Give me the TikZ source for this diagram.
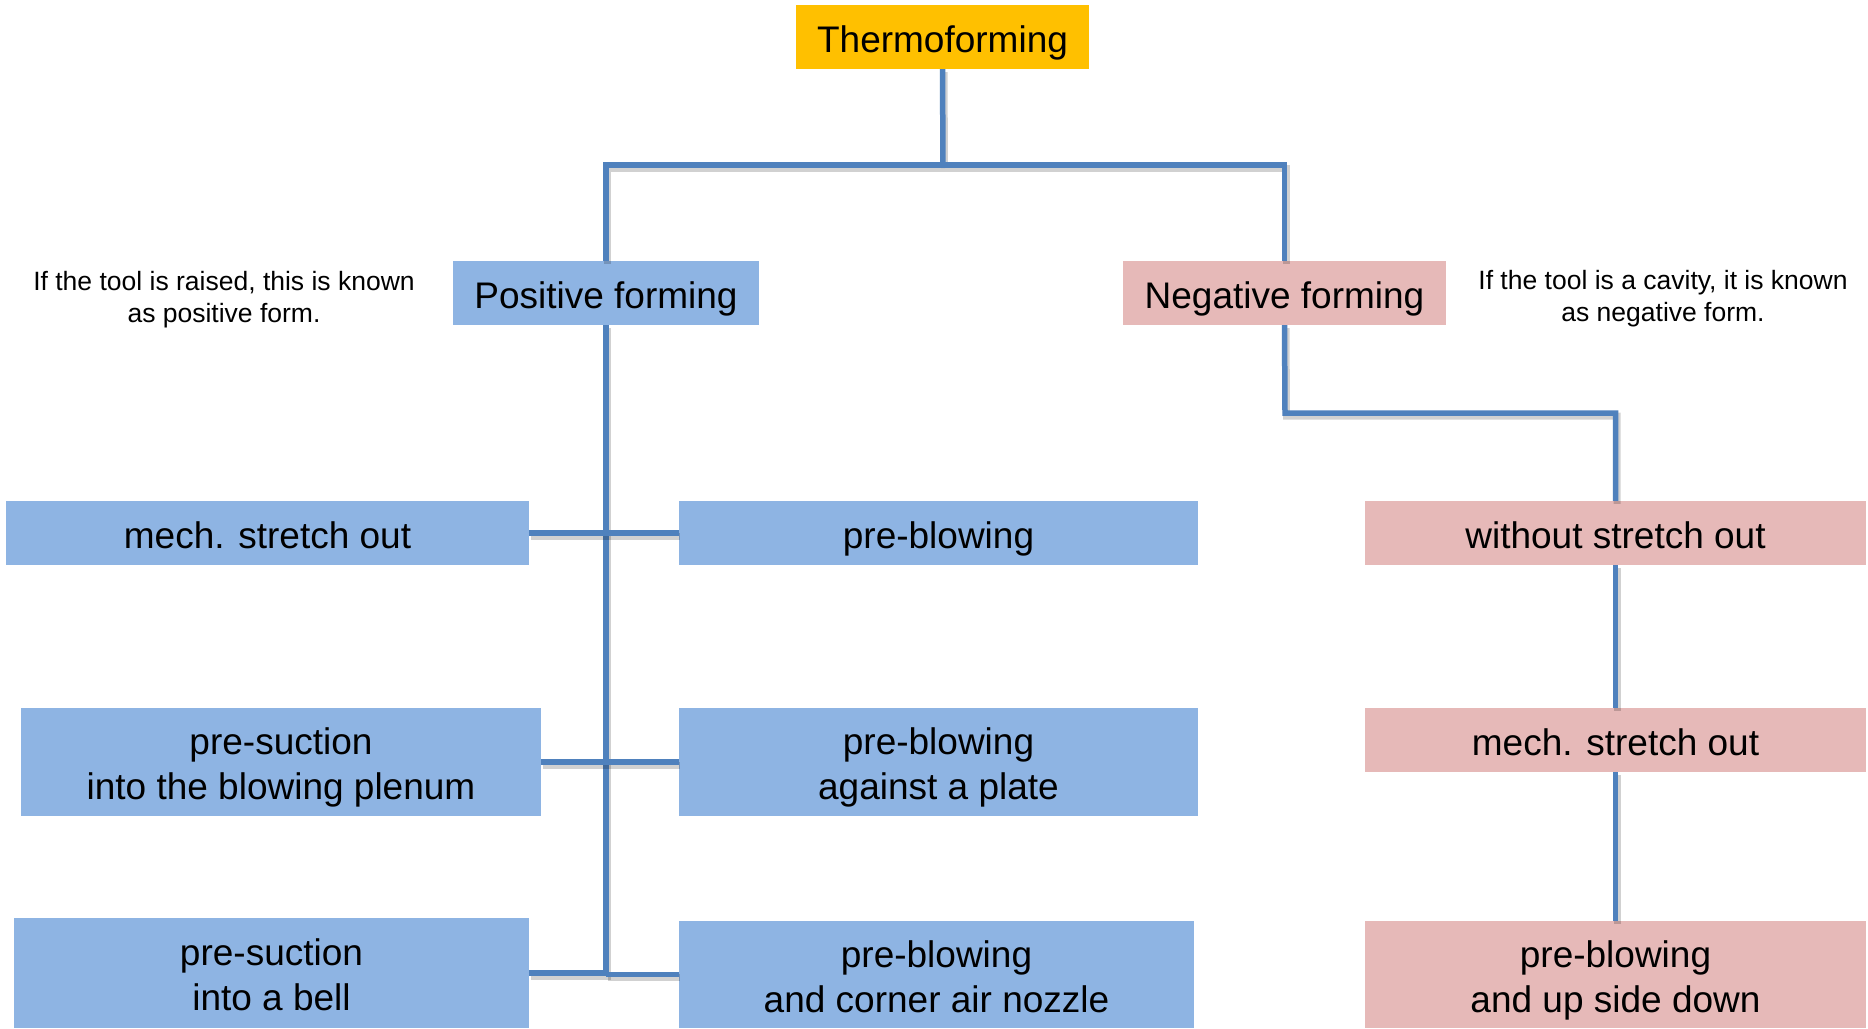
\documentclass[tikz,border=0pt]{standalone}
\usepackage{fontspec}
\setmainfont{Liberation Sans}
\definecolor{boxblue}{HTML}{8EB4E3}
\definecolor{boxpink}{HTML}{E6B9B8}
\definecolor{boxyellow}{HTML}{FFC000}
\definecolor{linkblue}{HTML}{4F81BD}
\newcommand{\bxt}[1]{\rule{0pt}{43.5pt}\begin{tabular}[t]{@{}c@{}}#1\end{tabular}}
\begin{document}
\begin{tikzpicture}[x=1pt,y=-1pt,
  box/.style={inner sep=0pt, font=\fontsize{37}{45}\selectfont, text=black},
  bluebox/.style={box, fill=boxblue},
  pinkbox/.style={box, fill=boxpink},
  note/.style={inner sep=0pt, align=center, font=\fontsize{26.5}{32}\selectfont},
  conn/.style={draw=linkblue, line width=5.5pt,
    preaction={draw=black, opacity=0.18, line width=7pt, transform canvas={shift={(1.5pt,-3pt)}}}}]
\useasboundingbox (0,0) rectangle (1868,1028);
\fill[white] (0,0) rectangle (1868,1028);

% top
\node[box, fill=boxyellow, minimum width=293pt, minimum height=64pt] (thermo) at (942.5,37) {\bxt{Thermoforming}};
\node[bluebox, minimum width=306pt, minimum height=64pt] (pos) at (606,293) {\bxt{Positive forming}};
\node[pinkbox, minimum width=323pt, minimum height=64pt] (neg) at (1284.5,293) {\bxt{Negative forming}};

\node[note] (npos) at (224,300) {If the tool is raised, this is known\\as positive form.};
\node[note] (nneg) at (1663,299) {If the tool is a cavity, it is known\\as negative form.};

% row 1
\node[bluebox, minimum width=523pt, minimum height=64pt] (mech1) at (267.5,533) {\bxt{mech. stretch out}};
\node[bluebox, minimum width=519pt, minimum height=64pt] (preb1) at (938.5,533) {\bxt{pre-blowing}};
\node[pinkbox, minimum width=501pt, minimum height=64pt] (wso) at (1615.5,533) {\bxt{without stretch out}};

% row 2
\node[bluebox, minimum width=520pt, minimum height=108pt] (pres1) at (281,762) {\bxt{pre-suction\\into the blowing plenum}};
\node[bluebox, minimum width=519pt, minimum height=108pt] (preb2) at (938.5,762) {\bxt{pre-blowing\\against a plate}};
\node[pinkbox, minimum width=501pt, minimum height=64pt] (mech2) at (1615.5,740) {\bxt{mech. stretch out}};

% row 3
\node[bluebox, minimum width=515pt, minimum height=110pt] (bell) at (271.5,973) {\bxt{pre-suction\\into a bell}};
\node[bluebox, minimum width=515pt, minimum height=107pt] (nozzle) at (936.5,974.5) {\bxt{pre-blowing\\and corner air nozzle}};
\node[pinkbox, minimum width=501pt, minimum height=107pt] (upside) at (1615.5,974.5) {\bxt{pre-blowing\\and up side down}};

% connectors
\coordinate (tb) at (943,165);
\coordinate (nb) at (1285,413);
\draw[conn] (thermo.south) -- (tb);
\draw[conn] (pos.north) |- (tb) -| (neg.north);
\draw[conn] (neg.south) -- (nb) -| (wso.north);
\draw[conn] (wso.south) -- (mech2.north);
\draw[conn] (mech2.south) -- (upside.north);
\draw[conn] (pos.south) |- (bell.east);
\draw[conn] (mech1.east) -- (preb1.west);
\draw[conn] (pres1.east |- preb2.west) -- (preb2.west);
\draw[conn] (pos.south |- nozzle.west) -- (nozzle.west);
\end{tikzpicture}
\end{document}
